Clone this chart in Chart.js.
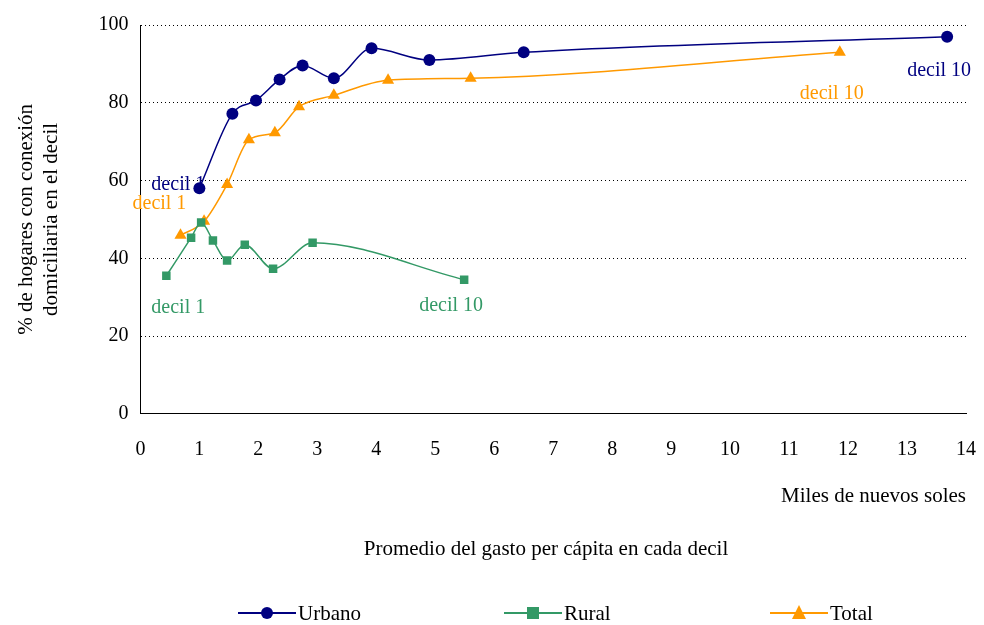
<!DOCTYPE html>
<html>
<head>
<meta charset="utf-8">
<script src="https://cdn.jsdelivr.net/npm/chart.js@4.4.1/dist/chart.umd.min.js"></script>
<style>
  html, body { margin: 0; padding: 0; background: #fff; overflow: hidden; }
  #wrap { width: 984px; height: 625px; }
</style>
</head>
<body>
<div id="wrap"><canvas id="chart"></canvas></div>
<script>
const urbanoX = [1.0, 1.56, 1.96, 2.36, 2.75, 3.28, 3.92, 4.9, 6.5, 13.68];
const urbanoY = [58, 77.2, 80.6, 86, 89.6, 86.3, 94, 91, 93, 97];
const ruralX = [0.44, 0.86, 1.03, 1.23, 1.47, 1.77, 2.25, 2.92, 5.49];
const ruralY = [35.5, 45.3, 49.2, 44.6, 39.4, 43.5, 37.3, 44, 34.5];
const totalX = [0.68, 1.08, 1.47, 1.84, 2.28, 2.69, 3.28, 4.2, 5.6, 11.86];
const totalY = [45.9, 49.5, 59, 70.5, 72.3, 79, 81.9, 85.8, 86.3, 93];

const seriesNames = ['Urbano', 'Rural', 'Total'];
const colors = ['#000080', '#339966', '#FF9900'];
const markers = ['circle', 'rect', 'triangle'];

const FONT = 'Liberation Serif, Times New Roman, serif';

function toPoints(xs, ys) {
  return xs.map((x, i) => ({ x: x, y: ys[i] }));
}

// decil labels: [datasetIndex, pointIndex, dx, dy, text]
const decilLabels = [
  [0, 0, -48, -4, 'decil 1'],
  [0, 9, -40, 34, 'decil 10'],
  [2, 0, -48, -32, 'decil 1'],
  [2, 9, -40, 42, 'decil 10'],
  [1, 0, -15, 32, 'decil 1'],
  [1, 8, -45, 26, 'decil 10'],
];

const extrasPlugin = {
  id: 'extras',
  afterDraw(chart) {
    const ctx = chart.ctx;
    const xs = chart.scales.x;
    const ys = chart.scales.y;
    ctx.save();
    ctx.font = '20px ' + FONT;
    ctx.textBaseline = 'middle';
    ctx.textAlign = 'left';
    decilLabels.forEach(([d, p, dx, dy, text]) => {
      const pt = chart.data.datasets[d].data[p];
      ctx.fillStyle = colors[d];
      ctx.fillText(text, xs.getPixelForValue(pt.x) + dx, ys.getPixelForValue(pt.y) + dy);
    });

    ctx.fillStyle = '#000';
    ctx.font = '21px ' + FONT;
    ctx.textAlign = 'center';
    ctx.fillText('Promedio del gasto per cápita en cada decil', 546, 549);

    // legend
    const legendX = [238, 504, 770];
    legendX.forEach((lx, i) => {
      ctx.strokeStyle = colors[i];
      ctx.lineWidth = 2;
      ctx.beginPath();
      ctx.moveTo(lx, 613);
      ctx.lineTo(lx + 58, 613);
      ctx.stroke();
      ctx.fillStyle = colors[i];
      const cx = lx + 29;
      ctx.beginPath();
      if (markers[i] === 'circle') {
        ctx.arc(cx, 613, 6, 0, Math.PI * 2);
      } else if (markers[i] === 'rect') {
        ctx.rect(cx - 6, 607, 12, 12);
      } else {
        ctx.moveTo(cx, 605);
        ctx.lineTo(cx + 7, 619);
        ctx.lineTo(cx - 7, 619);
        ctx.closePath();
      }
      ctx.fill();
      ctx.fillStyle = '#000';
      ctx.textAlign = 'left';
      ctx.fillText(seriesNames[i], lx + 60, 614);
    });
    ctx.restore();
  }
};

const datasets = [
  [urbanoX, urbanoY], [ruralX, ruralY], [totalX, totalY]
].map(([xs, ys], i) => ({
  label: seriesNames[i],
  data: toPoints(xs, ys),
  showLine: true,
  borderColor: colors[i],
  backgroundColor: colors[i],
  borderWidth: 1.5,
  tension: 0.4,
  cubicInterpolationMode: 'monotone',
  pointStyle: markers[i],
  pointRadius: markers[i] === 'triangle' ? 7 : 6,
  pointBorderWidth: 0,
}));

new Chart(document.getElementById('chart'), {
  type: 'scatter',
  data: { datasets: datasets },
  plugins: [extrasPlugin],
  options: {
    responsive: true,
    maintainAspectRatio: false,
    animation: false,
    layout: { padding: { top: 25, right: 18, bottom: 112, left: 10 } },
    plugins: { legend: { display: false }, tooltip: { enabled: false } },
    scales: {
      x: {
        min: 0, max: 14,
        afterFit(scale) { scale.paddingRight = 0; },
        ticks: { stepSize: 1, color: '#000', padding: 16, font: { family: FONT, size: 20 } },
        grid: { display: false, drawTicks: true },
        border: { color: '#000', width: 1 },
        title: {
          display: true, text: 'Miles de nuevos soles', align: 'end',
          color: '#000', font: { family: FONT, size: 21 }, padding: { top: 6 }
        }
      },
      y: {
        min: 0, max: 100,
        ticks: { stepSize: 20, color: '#000', padding: 12, font: { family: FONT, size: 20 } },
        grid: { color: '#000', drawTicks: false },
        border: { color: '#000', width: 1, dash: [1, 3] },
        title: {
          display: true,
          text: ['% de hogares con conexión', 'domiciliaria en el decil'],
          color: '#000', font: { family: FONT, size: 21 }, padding: { bottom: 22 }
        }
      }
    }
  }
});
</script>
</body>
</html>
